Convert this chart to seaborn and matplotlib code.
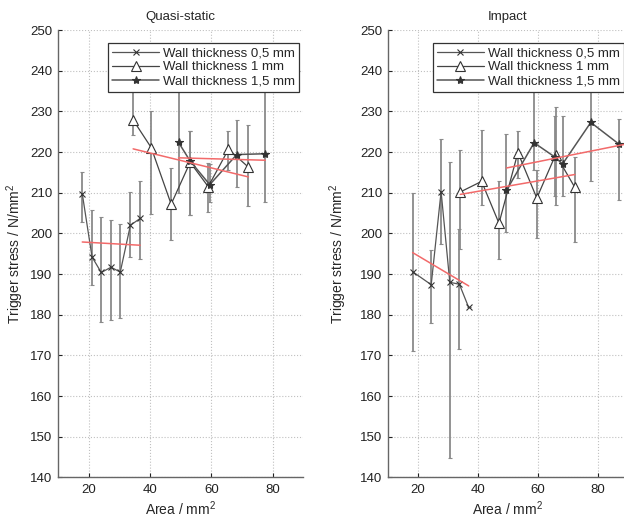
import numpy as np
import pandas as pd
import matplotlib
matplotlib.use('Agg')
import matplotlib.pyplot as plt
import seaborn as sns

# ---- data ----
labels = ['Wall thickness 0,5 mm', 'Wall thickness 1 mm', 'Wall thickness 1,5 mm']

# Quasi-static
qs_area_05 = [17.9, 21.1, 24.1, 27.3, 30.3, 33.6, 36.8]
qs_stress_05 = [209.8, 194.2, 190.4, 191.7, 190.5, 202.0, 203.7]
qs_lo_05 = [202.9, 187.4, 178.2, 178.6, 179.2, 194.1, 193.6]
qs_hi_05 = [215.1, 205.8, 204.1, 203.3, 202.4, 210.3, 213.0]

qs_area_10 = [34.5, 40.4, 46.9, 53.1, 59.0, 65.6, 72.1]
qs_stress_10 = [227.9, 221.1, 207.2, 217.5, 211.5, 220.7, 216.3]
qs_lo_10 = [224.2, 204.8, 198.4, 204.5, 205.3, 215.5, 206.7]
qs_hi_10 = [236.0, 230.2, 216.0, 225.2, 217.4, 225.2, 226.6]

qs_area_15 = [49.3, 53.1, 59.5, 68.3, 77.6]
qs_stress_15 = [222.4, 217.8, 212.0, 219.4, 219.6]
qs_lo_15 = [210.0, 204.6, 207.8, 211.5, 207.7]
qs_hi_15 = [236.0, 225.1, 217.0, 227.9, 237.0]

# trend lines (end points)
qs_trend_area_05 = [17.9, 36.8]
qs_trend_stress_05 = [197.9, 197.1]
qs_trend_area_10 = [34.5, 72.1]
qs_trend_stress_10 = [220.8, 213.9]
qs_trend_area_15 = [49.3, 77.6]
qs_trend_stress_15 = [218.6, 218.0]

# Impact
im_area_05 = [18.2, 24.4, 27.7, 30.6, 33.8, 36.9]
im_stress_05 = [190.6, 187.4, 210.3, 188.0, 187.5, 181.8]
im_lo_05 = [171.2, 178.1, 197.5, 144.9, 171.5, 181.8]
im_hi_05 = [209.9, 196.0, 223.2, 217.6, 201.1, 181.8]

im_area_10 = [34.1, 41.2, 47.0, 53.3, 59.6, 65.9, 72.3]
im_stress_10 = [210.2, 212.8, 202.5, 219.9, 208.7, 219.4, 211.3]
im_lo_10 = [196.3, 206.9, 193.8, 213.7, 199.0, 206.9, 197.8]
im_hi_10 = [220.6, 225.4, 212.8, 225.2, 215.7, 231.2, 218.8]

im_area_15 = [49.5, 58.7, 65.6, 68.2, 77.6, 87.1]
im_stress_15 = [210.6, 222.3, 218.8, 217.1, 227.3, 221.9]
im_lo_15 = [200.3, 215.5, 209.1, 209.1, 213.0, 208.3]
im_hi_15 = [224.4, 236.0, 229.0, 229.0, 241.0, 228.1]

im_trend_area_05 = [18.2, 36.9]
im_trend_stress_05 = [195.3, 187.1]
im_trend_area_10 = [34.1, 72.3]
im_trend_stress_10 = [209.6, 214.5]
im_trend_area_15 = [49.5, 89.5]
im_trend_stress_15 = [216.1, 222.0]

y_ticks = [140, 150, 160, 170, 180, 190, 200, 210, 220, 230, 240, 250]
x_ticks = [20, 40, 60, 80]

sns.set_style('whitegrid', {'grid.linestyle': ':', 'grid.color': '#c0c0c0',
                            'axes.edgecolor': '#555555'})
plt.rcParams['font.family'] = ['Liberation Sans', 'DejaVu Sans']
plt.rcParams['mathtext.fontset'] = 'custom'
plt.rcParams['mathtext.rm'] = 'Liberation Sans'

styles = [
    dict(marker='x', ms=4.5, mfc='none', lw=0.9, color='#555555'),
    dict(marker='^', ms=6.5, mfc='white', lw=0.9, color='#444444'),
    dict(marker='*', ms=6, mfc='#333333', lw=1.1, color='#555555'),
]

fig = plt.figure(figsize=(6.24, 5.19), dpi=100)
ax_qs = fig.add_axes([0.093, 0.080, 0.393, 0.862])
ax_im = fig.add_axes([0.6218, 0.080, 0.3846, 0.862])

panels = [
    (ax_qs, 'Quasi-static', -0.13, [
        (qs_area_05, qs_stress_05, qs_lo_05, qs_hi_05, qs_trend_area_05, qs_trend_stress_05),
        (qs_area_10, qs_stress_10, qs_lo_10, qs_hi_10, qs_trend_area_10, qs_trend_stress_10),
        (qs_area_15, qs_stress_15, qs_lo_15, qs_hi_15, qs_trend_area_15, qs_trend_stress_15)]),
    (ax_im, 'Impact', -0.163, [
        (im_area_05, im_stress_05, im_lo_05, im_hi_05, im_trend_area_05, im_trend_stress_05),
        (im_area_10, im_stress_10, im_lo_10, im_hi_10, im_trend_area_10, im_trend_stress_10),
        (im_area_15, im_stress_15, im_lo_15, im_hi_15, im_trend_area_15, im_trend_stress_15)]),
]

for ax, title, ylab_x, series in panels:
    for (area, stress, lo, hi, t_area, t_stress), st, lab in zip(series, styles, labels):
        area = np.array(area); stress = np.array(stress)
        err = [stress - np.array(lo), np.array(hi) - stress]
        ax.errorbar(area, stress, yerr=err, fmt='none', ecolor='#8a8a8a',
                    elinewidth=1.3, capsize=1.5, capthick=0.8, zorder=2)
        df = pd.DataFrame({'area': area, 'stress': stress})
        sns.lineplot(data=df, x='area', y='stress', ax=ax, label=lab,
                     marker=st['marker'], markersize=st['ms'],
                     markerfacecolor=st['mfc'], markeredgecolor='#333333',
                     markeredgewidth=0.8, color=st['color'], linewidth=st['lw'],
                     zorder=3)
        # trend line
        sns.lineplot(x=t_area, y=t_stress, ax=ax, color='#f26a6a', linewidth=1.1,
                     zorder=4, legend=False)
    ax.set_xlim(10, 90)
    ax.set_ylim(140, 250)
    ax.set_xticks(x_ticks)
    ax.set_yticks(y_ticks)
    ax.tick_params(direction='in', length=3, labelsize=9.5, colors='#222222',
                   left=True, bottom=True)
    ax.tick_params(axis='x', pad=5)
    ax.tick_params(axis='y', pad=4)
    ax.set_title(title, fontsize=9.5, pad=7)
    ax.set_xlabel('Area / mm$^2$', fontsize=10, labelpad=2)
    ax.set_ylabel('Trigger stress / N/mm$^2$', fontsize=10)
    ax.yaxis.set_label_coords(ylab_x, 0.5)
    sns.despine(ax=ax)
    for sp in ['left', 'bottom']:
        ax.spines[sp].set_color('#666666')
        ax.spines[sp].set_linewidth(1.0)
    leg = ax.legend(loc='upper right', bbox_to_anchor=(0.995, 0.977), fontsize=9.5,
                    frameon=True, fancybox=False, framealpha=1, edgecolor='#333333',
                    handlelength=3.6, borderpad=0.3, labelspacing=0.15,
                    handletextpad=0.3, borderaxespad=0.2)
    leg.get_frame().set_linewidth(0.9)
    leg.set_zorder(10)

fig.savefig('out.png', dpi=100)
